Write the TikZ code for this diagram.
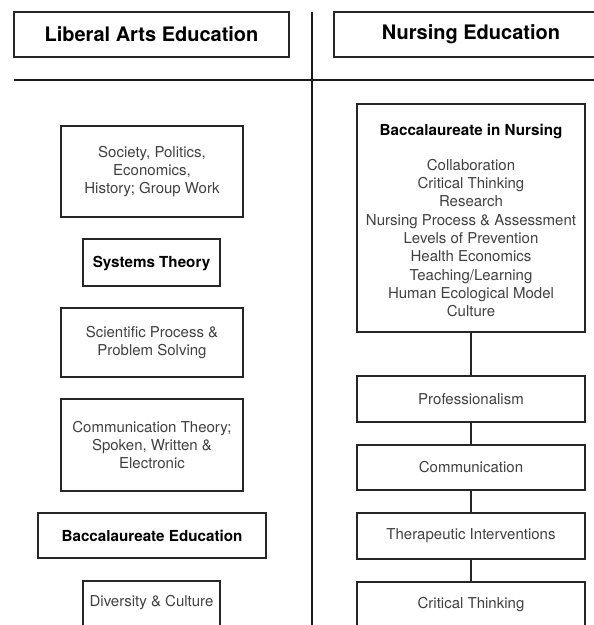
\documentclass[tikz,border=0pt]{standalone}
\usepackage{fontspec}
\setmainfont{TeX Gyre Heros}
\begin{document}
\begin{tikzpicture}[x=1pt,y=-1pt,
  box/.style={draw=black!85,line width=1.2pt,inner sep=0pt,align=center,text=black!75,
    font=\fontsize{15}{18.3}\selectfont},
  boldbox/.style={box,text=black,font=\fontsize{15.2}{18}\selectfont\bfseries},
  headbox/.style={box,text=black,font=\fontsize{20}{22}\selectfont\bfseries},
  rule/.style={line width=2.6pt,black!90},
  link/.style={line width=1.2pt,black!85}]
\useasboundingbox (0,0) rectangle (594,625);
\clip (0,0) rectangle (594,625);
% headers
\node[headbox,minimum width=275,minimum height=45] (hL) at (151.5,34.5) {Liberal Arts Education};
\node[headbox,minimum width=274,minimum height=45] (hR) at (471,34.5) {Nursing Education};
\coordinate (vt) at (312,12);
\coordinate (vb) at (312,630);
\coordinate (hl) at (14,80);
\coordinate (hr) at (600,80);
\draw[rule] (vt) -- (vb);
\draw[rule] (hl) -- (hr);
% left column
\node[box,minimum width=182,minimum height=91] (L1) at (152,171.5) {Society, Politics,\\Economics,\\History; Group Work};
\node[boldbox,minimum width=137,minimum height=47] (L2) at (151.5,262.5) {\rule{0pt}{14pt}Systems Theory};
\node[box,minimum width=182,minimum height=69] (L3) at (152,342.5) {Scientific Process \&\\Problem Solving};
\node[box,minimum width=182,minimum height=92] (L4) at (152,445) {Communication Theory;\\Spoken, Written \&\\Electronic};
\node[boldbox,minimum width=228,minimum height=45] (L5) at (152,535.5) {Baccalaureate Education};
\node[box,minimum width=137,minimum height=46] (L6) at (151.5,604) {\raisebox{7pt}{Diversity \& Culture}};
% right column
\node[box,minimum width=228,minimum height=228] (R1) at (471,218)
  {{\fontsize{15.2}{18}\selectfont\bfseries\color{black}\rule{0pt}{16pt}Baccalaureate in Nursing}\\[17pt]
   Collaboration\\Critical Thinking\\Research\\Nursing Process \& Assessment\\Levels of Prevention\\Health Economics\\Teaching/Learning\\Human Ecological Model\\Culture};
\node[box,minimum width=228,minimum height=46] (R2) at (471,399) {Professionalism};
\node[box,minimum width=228,minimum height=45] (R3) at (471,467.5) {Communication};
\node[box,minimum width=228,minimum height=46] (R4) at (471,536) {Therapeutic Interventions};
\node[box,minimum width=228,minimum height=46] (R5) at (471,605) {Critical Thinking};
\draw[link] (R1.south) -- (R2.north);
\draw[link] (R2.south) -- (R3.north);
\draw[link] (R3.south) -- (R4.north);
\draw[link] (R4.south) -- (R5.north);
\end{tikzpicture}
\end{document}
